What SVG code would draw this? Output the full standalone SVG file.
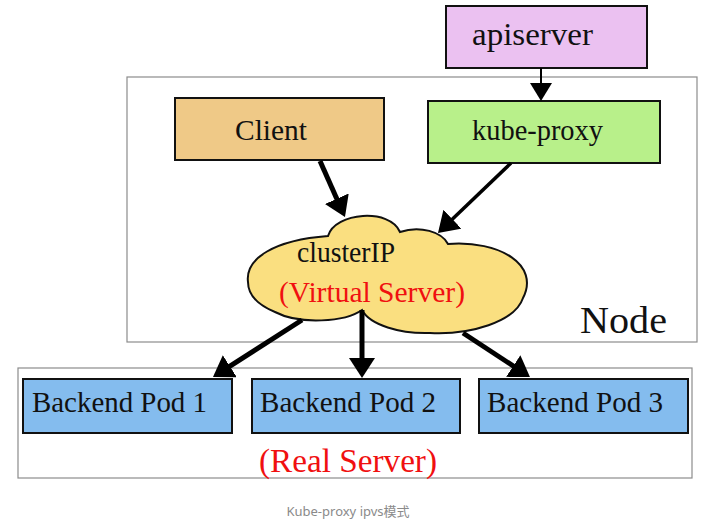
<svg xmlns="http://www.w3.org/2000/svg" width="709" height="523" viewBox="0 0 709 523">
<style>
.box{stroke:#111;stroke-width:2}
.frame{fill:none;stroke:#8c8c8c;stroke-width:1.2}
.t{font-family:"Liberation Serif","Times New Roman",serif;font-size:30px;fill:#111}
.red{fill:#f01010}
.con{stroke:#000;fill:none}
.cap{font-family:"Noto Sans","Noto Sans CJK SC",sans-serif;font-size:13px;fill:#8a8a8a}
</style>
<defs>
<marker id="ah" markerUnits="userSpaceOnUse" markerWidth="22" markerHeight="28" refX="10" refY="13" orient="auto" viewBox="0 0 22 28">
<path d="M0,0 L20,13 L0,26 Z" fill="#000"/>
</marker>
<marker id="ahs" markerUnits="userSpaceOnUse" markerWidth="20" markerHeight="24" refX="9" refY="11" orient="auto" viewBox="0 0 20 24">
<path d="M0,0 L18,11 L0,22 Z" fill="#000"/>
</marker>
</defs>
<rect width="709" height="523" fill="#fff"/>
<g id="node-frame">
<rect class="frame" x="127" y="77" width="570" height="265"/>
<text class="t" x="580" y="333" style="font-size:38px" textLength="87" lengthAdjust="spacingAndGlyphs">Node</text>
</g>
<g id="real-frame">
<rect class="frame" x="18" y="368" width="674" height="110"/>
<text class="t red" x="259" y="472" style="font-size:33px" textLength="178" lengthAdjust="spacingAndGlyphs">(Real Server)</text>
</g>
<g id="apiserver">
<rect class="box" x="446" y="6" width="201" height="62" fill="#ebc1f1"/>
<text class="t" x="472" y="45" style="font-size:32px" textLength="121" lengthAdjust="spacingAndGlyphs">apiserver</text>
</g>
<g id="client">
<rect class="box" x="175" y="98" width="209" height="62" fill="#efc987"/>
<text class="t" x="235" y="140" textLength="72" lengthAdjust="spacingAndGlyphs">Client</text>
</g>
<g id="kube-proxy">
<rect class="box" x="428" y="101" width="232" height="62" fill="#b8f08a"/>
<text class="t" x="472" y="140" textLength="131" lengthAdjust="spacingAndGlyphs">kube-proxy</text>
</g>
<g id="clusterip">
<path class="box" fill="#fadf80" d="M248,282 C245,258 275,240 328,236 C335,212 390,208 400,232 C420,225 442,232 448,244 C500,240 540,265 523,298 C515,322 470,335 430,333 C400,334 370,325 362,310 C345,322 300,325 275,312 C258,305 248,295 248,282 Z"/>
<text class="t" x="297" y="262" textLength="98" lengthAdjust="spacingAndGlyphs">clusterIP</text>
<text class="t red" x="279" y="302" textLength="186" lengthAdjust="spacingAndGlyphs">(Virtual Server)</text>
</g>
<g id="pod1">
<rect class="box" x="23" y="379" width="209" height="54" fill="#84bcee"/>
<text class="t" x="32" y="412" textLength="175" lengthAdjust="spacingAndGlyphs">Backend Pod 1</text>
</g>
<g id="pod2">
<rect class="box" x="252" y="379" width="208" height="54" fill="#84bcee"/>
<text class="t" x="260" y="412" textLength="176" lengthAdjust="spacingAndGlyphs">Backend Pod 2</text>
</g>
<g id="pod3">
<rect class="box" x="479" y="379" width="209" height="54" fill="#84bcee"/>
<text class="t" x="487" y="412" textLength="176" lengthAdjust="spacingAndGlyphs">Backend Pod 3</text>
</g>
<g id="connectors">
<line class="con" x1="541" y1="68" x2="541" y2="92" stroke-width="2" marker-end="url(#ahs)"/>
<line class="con" x1="320" y1="161" x2="340.9" y2="207.9" stroke-width="5" marker-end="url(#ah)"/>
<line class="con" x1="511" y1="163" x2="445.2" y2="226.1" stroke-width="3.5" marker-end="url(#ah)"/>
<line class="con" x1="302" y1="320" x2="221.4" y2="371.6" stroke-width="5" marker-end="url(#ah)"/>
<line class="con" x1="362" y1="310" x2="362" y2="368" stroke-width="5" marker-end="url(#ah)"/>
<line class="con" x1="463" y1="333" x2="521.6" y2="371.5" stroke-width="5" marker-end="url(#ah)"/>
</g>
<text class="cap" x="348" y="516" text-anchor="middle">Kube-proxy ipvs模式</text>
</svg>
